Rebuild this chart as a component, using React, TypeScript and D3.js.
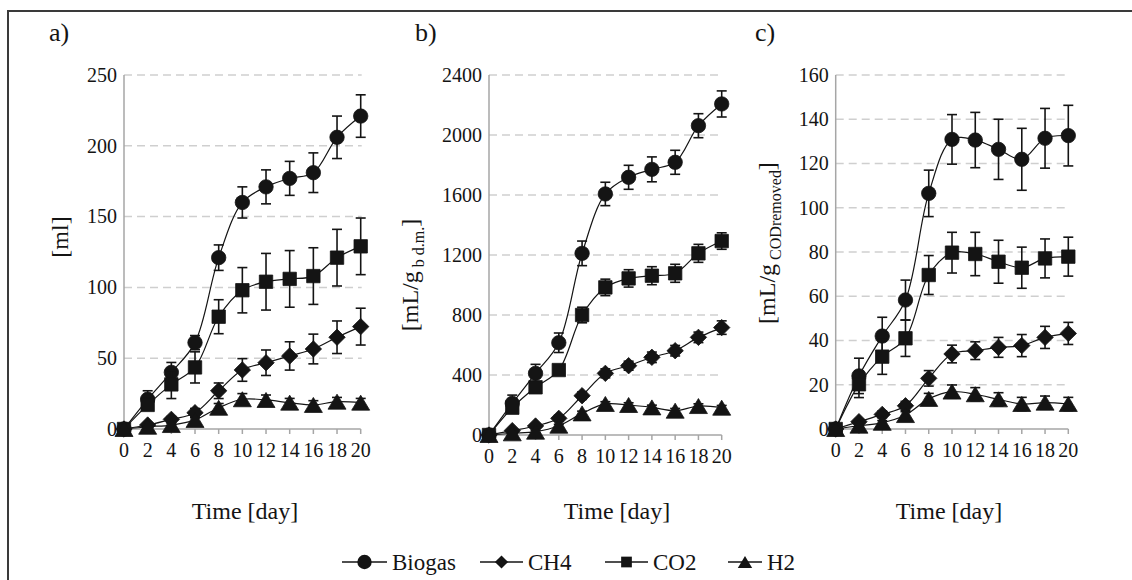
import React from 'react';
import * as d3 from 'd3';

// ---------- data ----------
const days = [0, 2, 4, 6, 8, 10, 12, 14, 16, 18, 20];
const seriesNames = ['Biogas', 'CH4', 'CO2', 'H2'];

// panel a) [ml]
const aTicks = [0, 50, 100, 150, 200, 250];
const aBiogas = [0, 21, 40, 61, 121, 160, 171, 177, 181, 206, 221];
const aBiogasErr = [0, 6, 7, 5, 9, 11, 12, 12, 14, 15, 15];
const aCH4 = [0, 2.8, 6.8, 11.5, 27, 41.7, 46.8, 51.6, 56.5, 64.8, 72.3];
const aCH4Err = [0, 1, 2, 3, 5.5, 8, 9, 10, 10.5, 11.5, 13];
const aCO2 = [0, 17, 31.5, 43.5, 79.3, 98, 104, 106, 108, 121, 129];
const aCO2Err = [0, 3, 10, 11, 12, 16, 20, 20, 20, 20, 20];
const aH2 = [0, 1.6, 2.8, 6.4, 15, 21, 20.5, 18.6, 17, 19.3, 18.6];
const aH2Err = [0, 0.5, 1, 1.5, 3, 4, 3.5, 3, 3, 3, 3];

// panel b) [mL/g b d.m.]
const bTicks = [0, 400, 800, 1200, 1600, 2000, 2400];
const bBiogas = [0, 211, 411, 615, 1211, 1607, 1718, 1771, 1818, 2062, 2207];
const bBiogasErr = [0, 55, 60, 65, 82, 78, 80, 83, 80, 80, 87];
const bCH4 = [0, 29, 60, 111, 262, 411, 462, 518, 562, 651, 716];
const bCH4Err = [0, 10, 15, 20, 25, 30, 30, 35, 35, 35, 45];
const bCO2 = [0, 182, 318, 433, 800, 984, 1044, 1062, 1078, 1211, 1293];
const bCO2Err = [0, 25, 30, 30, 52, 55, 58, 60, 60, 60, 55];
const bH2 = [0, 11, 22, 62, 144, 207, 200, 184, 162, 193, 182];
const bH2Err = [0, 5, 8, 10, 15, 15, 15, 15, 15, 15, 15];

// panel c) [mL/g CODremoved]
const cTicks = [0, 20, 40, 60, 80, 100, 120, 140, 160];
const cBiogas = [0, 24, 42, 58.3, 106.5, 130.9, 130.6, 126.4, 121.9, 131.4, 132.6];
const cBiogasErr = [0, 8, 8.5, 9, 10.5, 11.2, 12.5, 13.6, 14, 13.5, 13.7];
const cCH4 = [0, 3.3, 6.6, 10.5, 22.9, 33.9, 35.4, 36.9, 37.7, 41.4, 43.2];
const cCH4Err = [0, 1, 1.5, 2, 3.5, 4, 4, 4.5, 5, 5, 5];
const cCO2 = [0, 20.2, 32.7, 41, 69.6, 79.7, 79.1, 75.6, 72.9, 77.1, 77.9];
const cCO2Err = [0, 6, 8, 8.2, 8.8, 9.2, 9.8, 9.7, 9.3, 8.8, 8.8];
const cH2 = [0, 1.5, 2.8, 6.3, 13.6, 16.9, 15.7, 13.4, 11.3, 11.9, 11.3];
const cH2Err = [0, 0.5, 1, 1.5, 2.5, 3, 3, 3, 3, 3, 3];

const xTicks = days;

// ---------- style ----------
const FONT = '"Liberation Serif", "Times New Roman", serif';
const INK = '#141414';
const AXIS = '#a6a6a6';
const GRID = '#cfcfcf';

type Kind = 'circle' | 'diamond' | 'square' | 'triangle';
const kinds: Kind[] = ['circle', 'diamond', 'square', 'triangle'];

function markerPath(kind: Kind, cx: number, cy: number, scale = 1): string {
  if (kind === 'circle') {
    const r = 7.2 * scale;
    return `M${cx - r},${cy}a${r},${r} 0 1,0 ${2 * r},0a${r},${r} 0 1,0 ${-2 * r},0Z`;
  }
  if (kind === 'square') {
    const h = 6.7 * scale;
    return `M${cx - h},${cy - h}H${cx + h}V${cy + h}H${cx - h}Z`;
  }
  if (kind === 'diamond') {
    const h = 8.2 * scale;
    return `M${cx},${cy - h}L${cx + h},${cy}L${cx},${cy + h}L${cx - h},${cy}Z`;
  }
  const w = 9 * scale;
  const h = 7.5 * scale;
  return `M${cx},${cy - h}L${cx + w},${cy + h}L${cx - w},${cy + h}Z`;
}

type PanelCfg = {
  letter: string;
  x0: number;
  x1: number;
  yTop: number;
  yBottom: number;
  ticks: number[];
  values: number[][];
  errors: number[][];
  labelMain: string;
  labelSub?: string;
  labelX: number;
  labelY: number;
  letterX: number;
  titleX: number;
};

const panels: PanelCfg[] = [
  {
    letter: 'a)', x0: 124, x1: 360.7, yTop: 75, yBottom: 429, ticks: aTicks,
    values: [aBiogas, aCH4, aCO2, aH2], errors: [aBiogasErr, aCH4Err, aCO2Err, aH2Err],
    labelMain: '[ml]', labelX: 60, labelY: 237, letterX: 49, titleX: 245,
  },
  {
    letter: 'b)', x0: 489, x1: 721.7, yTop: 75, yBottom: 435, ticks: bTicks,
    values: [bBiogas, bCH4, bCO2, bH2], errors: [bBiogasErr, bCH4Err, bCO2Err, bH2Err],
    labelMain: '[mL/g', labelSub: 'b d.m.', labelX: 410, labelY: 275, letterX: 415, titleX: 617,
  },
  {
    letter: 'c)', x0: 835.7, x1: 1068.3, yTop: 75, yBottom: 429, ticks: cTicks,
    values: [cBiogas, cCH4, cCO2, cH2], errors: [cBiogasErr, cCH4Err, cCO2Err, cH2Err],
    labelMain: '[mL/g', labelSub: 'CODremoved', labelX: 767, labelY: 243, letterX: 755, titleX: 949,
  },
];

function Panel({ cfg }: { cfg: PanelCfg }) {
  const max = cfg.ticks[cfg.ticks.length - 1];
  const x = d3.scaleLinear().domain([0, 20]).range([cfg.x0, cfg.x1]);
  const y = d3.scaleLinear().domain([0, max]).range([cfg.yBottom, cfg.yTop]);
  const line = d3
    .line<number>()
    .x((_, i) => x(days[i]))
    .y((v) => y(v))
    .curve(d3.curveCatmullRom.alpha(0.5));
  const cap = 5;
  return (
    <g>
      <text x={cfg.letterX} y={41} fontFamily={FONT} fontSize={26} fill={INK}>
        {cfg.letter}
      </text>
      {cfg.ticks.slice(1).map((t) => (
        <line key={'g' + t} x1={cfg.x0} x2={cfg.x1 + 1} y1={y(t)} y2={y(t)} stroke={GRID} strokeWidth={1.5} strokeDasharray="8,5" />
      ))}
      <line x1={cfg.x0} x2={cfg.x0} y1={cfg.yBottom} y2={cfg.yTop} stroke={AXIS} strokeWidth={1.5} />
      <line x1={cfg.x0} x2={cfg.x1} y1={cfg.yBottom} y2={cfg.yBottom} stroke={AXIS} strokeWidth={1.5} />
      {xTicks.map((t) => (
        <line key={'xt' + t} x1={x(t)} x2={x(t)} y1={cfg.yBottom} y2={cfg.yBottom + 5} stroke={AXIS} strokeWidth={1.5} />
      ))}
      {cfg.ticks.map((t) => (
        <text key={'yl' + t} x={cfg.x0 - 7} y={y(t)} dy="0.34em" textAnchor="end" fontFamily={FONT} fontSize={20} fill={INK}>
          {t}
        </text>
      ))}
      {xTicks.map((t) => (
        <text key={'xl' + t} x={x(t)} y={cfg.yBottom + 21} dy="0.34em" textAnchor="middle" fontFamily={FONT} fontSize={20} fill={INK}>
          {t}
        </text>
      ))}
      <text x={cfg.titleX} y={511} dy="0.34em" textAnchor="middle" fontFamily={FONT} fontSize={24} fill={INK}>
        Time [day]
      </text>
      <text
        transform={`translate(${cfg.labelX},${cfg.labelY}) rotate(-90)`}
        dy="0.34em"
        textAnchor="middle"
        fontFamily={FONT}
        fontSize={24}
        fill={INK}
      >
        {cfg.labelMain}
        {cfg.labelSub ? (
          <>
            <tspan fontSize={16} dy="6"> {cfg.labelSub}</tspan>
            <tspan dy="-6">]</tspan>
          </>
        ) : null}
      </text>
      {cfg.values.map((vals, si) => (
        <g key={'s' + si}>
          <path d={line(vals) || ''} fill="none" stroke={INK} strokeWidth={1.2} />
          {vals.map((v, i) => {
            const e = cfg.errors[si][i];
            if (!e) return null;
            const px = x(days[i]);
            return (
              <g key={'e' + i} stroke={INK} strokeWidth={1.6}>
                <line x1={px} x2={px} y1={y(v - e)} y2={y(v + e)} />
                <line x1={px - cap} x2={px + cap} y1={y(v + e)} y2={y(v + e)} />
                <line x1={px - cap} x2={px + cap} y1={y(v - e)} y2={y(v - e)} />
              </g>
            );
          })}
          {vals.map((v, i) => (
            <path key={'m' + i} d={markerPath(kinds[si], x(days[i]), y(v))} fill={INK} stroke={INK} strokeWidth={0.8} />
          ))}
        </g>
      ))}
    </g>
  );
}

const legendItems = [
  { x: 342, textX: 392 },
  { x: 480, textX: 528 },
  { x: 605, textX: 653 },
  { x: 728, textX: 767 },
];

export default function App() {
  const ly = 562;
  return (
    <svg
      width={1132}
      height={580}
      style={{ position: 'absolute', left: 0, top: 0, background: '#fff' }}
    >
      <rect x={0} y={0} width={1132} height={580} fill="#fff" />
      <rect x={8} y={11} width={1140} height={600} fill="none" stroke="#3a3a3a" strokeWidth={2} />
      {panels.map((p) => (
        <Panel key={p.letter} cfg={p} />
      ))}
      {seriesNames.map((name, i) => {
        const it = legendItems[i];
        const lineEnd = it.textX - 5;
        const cx = (it.x + lineEnd) / 2;
        return (
          <g key={name}>
            <line x1={it.x} x2={lineEnd} y1={ly} y2={ly} stroke={INK} strokeWidth={1.5} />
            <path d={markerPath(kinds[i], cx, ly, kinds[i] === 'circle' ? 1 : 0.8)} fill={INK} />
            <text x={it.textX} y={ly} dy="0.34em" fontFamily={FONT} fontSize={23} fill={INK}>
              {name}
            </text>
          </g>
        );
      })}
    </svg>
  );
}
